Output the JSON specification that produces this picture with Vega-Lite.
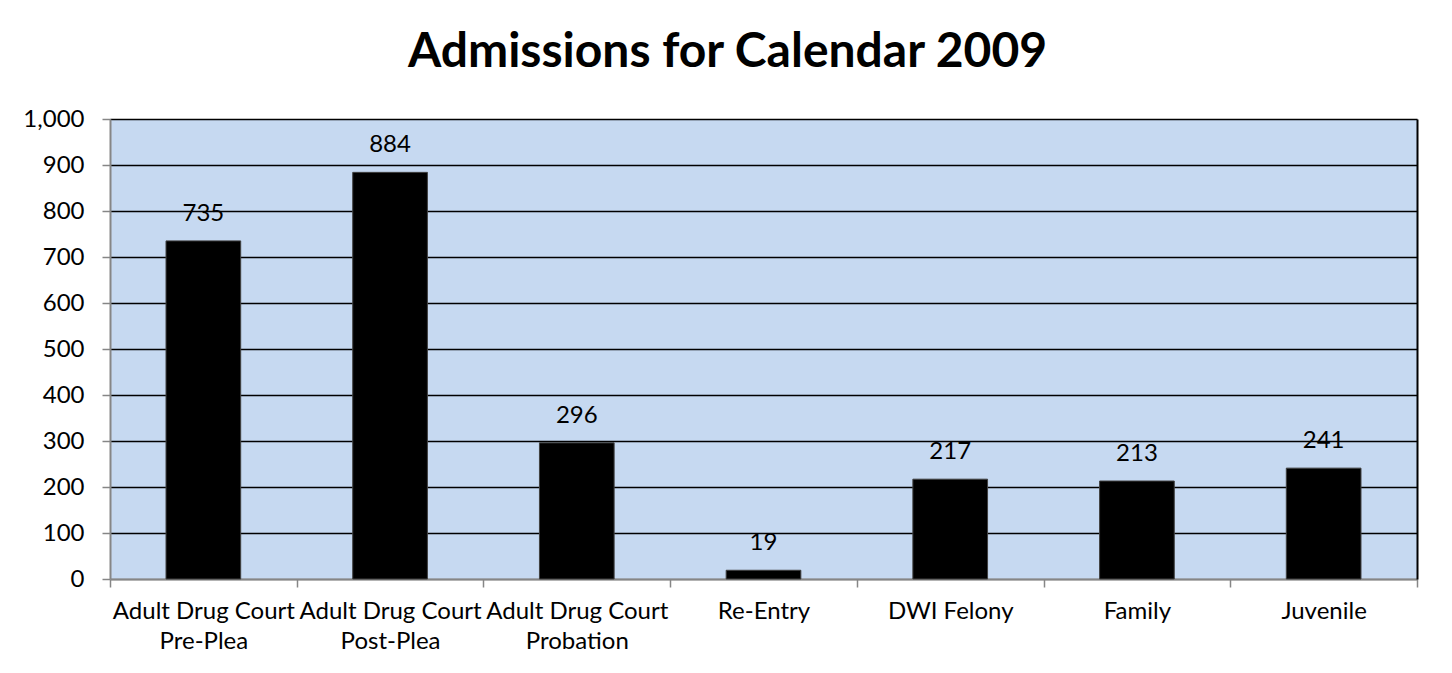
{
  "$schema": "https://vega.github.io/schema/vega-lite/v6.json",
  "autosize": "none",
  "width": 1307,
  "height": 460,
  "padding": {"left": 110, "top": 119, "right": 35, "bottom": 94},
  "background": "white",
  "title": {
    "text": "Admissions for Calendar 2009",
    "font": "Lato",
    "fontSize": 48,
    "fontWeight": "bold",
    "color": "black",
    "anchor": "middle",
    "dx": -36,
    "offset": 30
  },
  "data": {
    "values": [
      {"program": "Adult Drug Court|Pre-Plea", "admissions": 735},
      {"program": "Adult Drug Court|Post-Plea", "admissions": 884},
      {"program": "Adult Drug Court|Probation", "admissions": 296},
      {"program": "Re-Entry", "admissions": 19},
      {"program": "DWI Felony", "admissions": 217},
      {"program": "Family", "admissions": 213},
      {"program": "Juvenile", "admissions": 241}
    ]
  },
  "config": {
    "view": {"fill": "#C6D9F1", "stroke": null},
    "font": "Lato"
  },
  "encoding": {
    "x": {
      "field": "program",
      "type": "nominal",
      "sort": null,
      "scale": {"paddingInner": 0, "paddingOuter": 0},
      "axis": {
        "title": null,
        "labelAngle": 0,
        "labelExpr": "split(datum.label, '|')",
        "labelFont": "Lato",
        "labelFontSize": 24,
        "labelColor": "black",
        "labelLineHeight": 30,
        "labelPadding": 12,
        "labelLimit": 300,
        "tickBand": "extent",
        "tickSize": 8,
        "tickColor": "#868686",
        "tickWidth": 1.5,
        "domainColor": "#868686",
        "domainWidth": 2
      }
    },
    "y": {
      "field": "admissions",
      "type": "quantitative",
      "scale": {"domain": [0, 1000], "nice": false}
    }
  },
  "layer": [
    {
      "mark": {"type": "bar", "color": "black", "stroke": "#404040", "strokeWidth": 1, "width": {"band": 0.4}},
      "encoding": {
        "y": {
          "field": "admissions",
          "type": "quantitative",
          "axis": {
            "title": null,
            "values": [0, 100, 200, 300, 400, 500, 600, 700, 800, 900, 1000],
            "labelExpr": "format(datum.value, ',')",
            "labelFont": "Lato",
            "labelFontSize": 24,
            "labelColor": "black",
            "labelPadding": 18,
            "tickSize": 8,
            "tickColor": "#868686",
            "tickWidth": 1.5,
            "domainColor": "#868686",
            "domainWidth": 2,
            "grid": true,
            "gridColor": {"condition": {"test": "datum.value === 0", "value": "#868686"}, "value": "black"},
            "gridWidth": 1.5,
            "gridOpacity": 1
          }
        }
      }
    },
    {
      "mark": {"type": "text", "baseline": "alphabetic", "align": "center", "dy": -20, "font": "Lato", "fontSize": 24, "color": "black"},
      "encoding": {
        "text": {"field": "admissions", "type": "quantitative"},
        "y": {
          "field": "admissions",
          "type": "quantitative",
          "axis": {
            "orient": "right",
            "title": null,
            "labels": false,
            "ticks": false,
            "grid": false,
            "domainColor": "black",
            "domainWidth": 2
          }
        }
      }
    }
  ],
  "resolve": {"axis": {"y": "independent"}}
}
